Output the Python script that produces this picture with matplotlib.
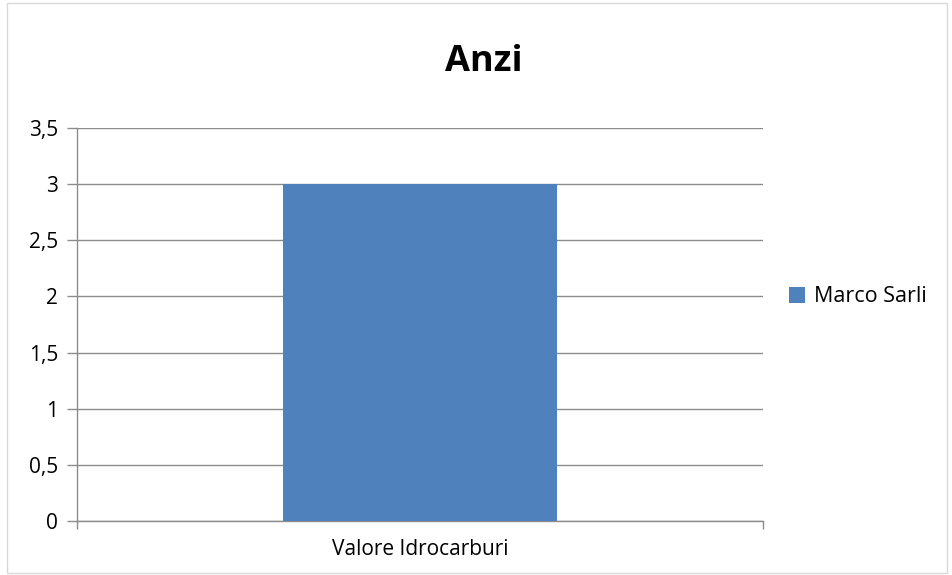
import matplotlib.pyplot as plt
from matplotlib.patches import Rectangle
from matplotlib.ticker import FuncFormatter

plt.rcParams['font.family'] = ['Open Sans', 'DejaVu Sans']

categorie = ['Valore Idrocarburi']
valori = [3]
serie = 'Marco Sarli'
titolo = 'Anzi'

fig = plt.figure(figsize=(9.52, 5.75), dpi=100)
ax = fig.add_axes([77 / 952, 1 - 521 / 575, (763 - 77) / 952, (521 - 128) / 575])

ax.bar(range(len(categorie)), valori, width=0.4, color='#4f81bd', label=serie, zorder=3)

ax.set_xlim(-0.5, len(categorie) - 0.5)
ax.set_ylim(0, 3.5)
ax.set_yticks([0, 0.5, 1, 1.5, 2, 2.5, 3, 3.5])
ax.yaxis.set_major_formatter(FuncFormatter(lambda v, p: ('%g' % v).replace('.', ',')))
ax.grid(axis='y', color='#8c8c8c', linewidth=1, zorder=0)

# tick categorie: etichetta al centro, trattini ai bordi
ax.set_xticks([-0.5, 0.5])
ax.set_xticklabels(['', ''])
ax.set_xticks([0], minor=True)
ax.set_xticklabels(categorie, minor=True)
ax.tick_params(axis='x', which='minor', length=0, pad=13, labelsize=15)
ax.tick_params(axis='x', which='major', length=6, color='#8c8c8c', width=1)
ax.tick_params(axis='y', length=7.5, color='#8c8c8c', width=1, pad=6, labelsize=15)

for s in ['top', 'right']:
    ax.spines[s].set_visible(False)
for s in ['left', 'bottom']:
    ax.spines[s].set_color('#8c8c8c')
    ax.spines[s].set_linewidth(1)

fig.text(484 / 952, 1 - 62 / 575, titolo, ha='center', va='center',
         fontsize=26, fontweight='bold')

ax.legend(loc='center left', bbox_to_anchor=(1.022, 0.57), frameon=False,
          fontsize=15.5, handlelength=0.75, handleheight=0.75, handletextpad=0.4,
          borderpad=0)

# bordo esterno del grafico
fig.patches.append(Rectangle((7 / 952, 2 / 575), 940 / 952, 570 / 575,
                             transform=fig.transFigure, fill=False,
                             edgecolor='#d9d9d9', linewidth=1))

fig.savefig('out.png', dpi=100)
